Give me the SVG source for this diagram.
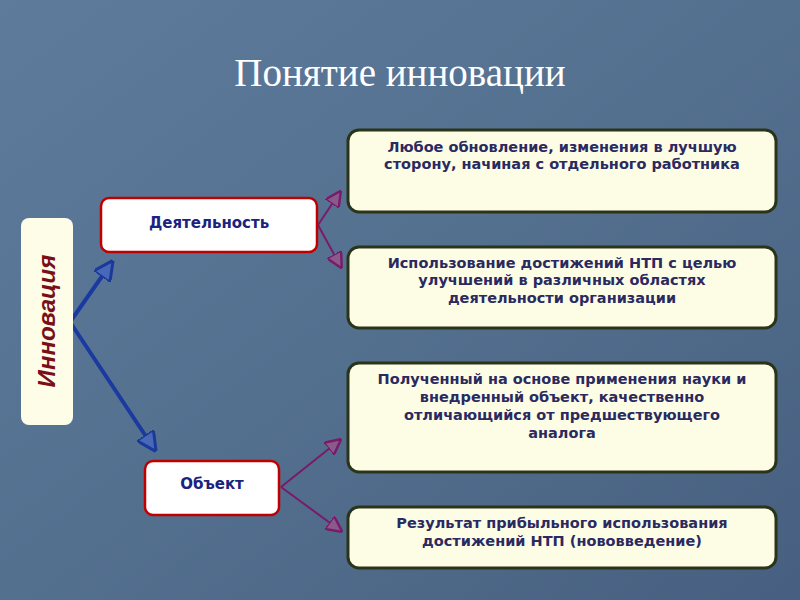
<svg xmlns="http://www.w3.org/2000/svg" width="800" height="600" viewBox="0 0 800 600">
<defs>
<linearGradient id="bg" x1="0" y1="0" x2="1" y2="1">
<stop offset="0" stop-color="#5f7b9c"/><stop offset="0.5" stop-color="#54708f"/><stop offset="1" stop-color="#475f80"/>
</linearGradient>
<marker id="ab" viewBox="0 0 10 10" refX="9" refY="5" markerWidth="5" markerHeight="5" orient="auto" markerUnits="strokeWidth">
<path d="M0,0 L10,5 L0,10 Z" fill="#4a68b8" stroke="#1a3a9a" stroke-width="1.5"/></marker>
<marker id="ap" viewBox="0 0 10 10" refX="9" refY="5" markerWidth="8" markerHeight="8" orient="auto" markerUnits="strokeWidth">
<path d="M0,0 L10,5 L0,10 Z" fill="#8a5a8a" stroke="#7a1a6a" stroke-width="1.5"/></marker>
<style>
.sub{fill:#fff;stroke:#c00000;stroke-width:2.5}
.box{fill:#fdfde6;stroke:#2a3418;stroke-width:3}
.st{font-family:"DejaVu Sans",sans-serif;font-weight:bold;font-size:15px;fill:#1a237e;text-anchor:middle}
.bt{font-family:"DejaVu Sans",sans-serif;font-weight:bold;font-size:14.5px;fill:#2a2a60;text-anchor:middle}
</style>
</defs>
<rect width="800" height="600" fill="url(#bg)"/>
<text x="400" y="86" font-family="Liberation Serif,serif" font-size="39" fill="#fff" text-anchor="middle">Понятие инновации</text>
<g id="connectors" fill="none">
<g stroke="#1a3aa0" stroke-width="4">
<path d="M70,322 L112,262" marker-end="url(#ab)"/>
<path d="M70,322 L155,450" marker-end="url(#ab)"/>
</g>
<g stroke="#7a1a6a" stroke-width="2">
<path d="M318,225 L340,192" marker-end="url(#ap)"/>
<path d="M318,225 L341,267" marker-end="url(#ap)"/>
<path d="M281,487 L340,440" marker-end="url(#ap)"/>
<path d="M281,487 L341,531" marker-end="url(#ap)"/>
</g>
</g>
<g id="innovation"><rect x="21" y="218" width="52" height="207" rx="8" fill="#fdfde8"/>
<text transform="translate(55,321) rotate(-90)" font-family="Liberation Sans,Arial,sans-serif" font-weight="bold" font-style="italic" font-size="24" fill="#7a0f1a" text-anchor="middle">Инновация</text></g>
<g id="activity"><rect class="sub" x="101" y="198" width="216" height="54" rx="8"/><text class="st" x="209" y="228">Деятельность</text></g>
<g id="object"><rect class="sub" x="145" y="461" width="134" height="54" rx="8"/><text class="st" x="212" y="489">Объект</text></g>
<g id="b1"><rect class="box" x="348" y="130" width="428" height="82" rx="11"/>
<text class="bt" x="562" y="152">Любое обновление, изменения в лучшую</text><text class="bt" x="562" y="169">сторону, начиная с отдельного работника</text></g>
<g id="b2"><rect class="box" x="348" y="247" width="428" height="81" rx="11"/>
<text class="bt" x="562" y="268">Использование достижений НТП с целью</text><text class="bt" x="562" y="285">улучшений в различных областях</text><text class="bt" x="562" y="303">деятельности организации</text></g>
<g id="b3"><rect class="box" x="348" y="363" width="428" height="109" rx="11"/>
<text class="bt" x="562" y="384">Полученный на основе применения науки и</text><text class="bt" x="562" y="402">внедренный объект, качественно</text><text class="bt" x="562" y="420">отличающийся от предшествующего</text><text class="bt" x="562" y="438">аналога</text></g>
<g id="b4"><rect class="box" x="348" y="507" width="428" height="61" rx="11"/>
<text class="bt" x="562" y="528">Результат прибыльного использования</text><text class="bt" x="562" y="546">достижений НТП (нововведение)</text></g>
</svg>
